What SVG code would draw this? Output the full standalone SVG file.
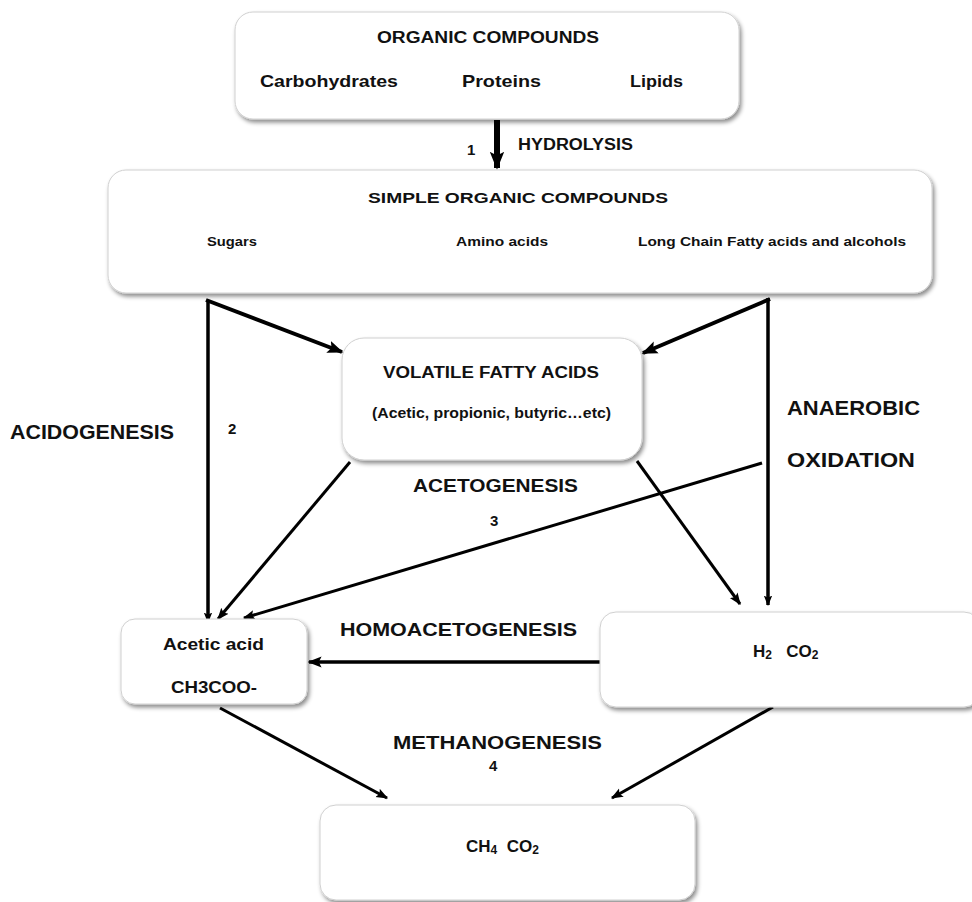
<svg xmlns="http://www.w3.org/2000/svg" width="972" height="902" viewBox="0 0 972 902">
<defs>
<filter id="sh" x="-10%" y="-10%" width="130%" height="140%">
<feDropShadow dx="2" dy="3" stdDeviation="2" flood-color="#000" flood-opacity="0.45"/>
</filter>
<marker id="ah" viewBox="0 0 10 10" refX="9" refY="5" markerWidth="4" markerHeight="4" orient="auto" markerUnits="strokeWidth">
<path d="M0,1 L10,5 L0,9 L2,5 Z" fill="#000"/>
</marker>
<marker id="ahs" viewBox="0 0 10 10" refX="9" refY="5" markerWidth="3" markerHeight="3" orient="auto" markerUnits="strokeWidth">
<path d="M0,1 L10,5 L0,9 L2,5 Z" fill="#000"/>
</marker>
</defs>
<style>
.box{fill:#fff;stroke:#d0d0d0;stroke-width:1;filter:url(#sh)}
text{font-family:"Liberation Sans",Arial,sans-serif;font-weight:bold;fill:#111}
.c{stroke:#000;fill:none;stroke-linecap:butt}
</style>
<rect width="972" height="902" fill="#fff"/>
<g id="connectors">
<line class="c" x1="497" y1="120" x2="497" y2="168" stroke-width="6" marker-end="url(#ahs)"/>
<polyline class="c" points="208,300 208,622" stroke-width="3.5" marker-end="url(#ahs)"/>
<line class="c" x1="206" y1="300" x2="342" y2="352" stroke-width="4" marker-end="url(#ah)"/>
<polyline class="c" points="768,298 768,605" stroke-width="3.5" marker-end="url(#ahs)"/>
<line class="c" x1="770" y1="299" x2="643" y2="353" stroke-width="4" marker-end="url(#ah)"/>
<line class="c" x1="350" y1="462" x2="218" y2="619" stroke-width="3" marker-end="url(#ah)"/>
<line class="c" x1="637" y1="461" x2="740" y2="604" stroke-width="3" marker-end="url(#ah)"/>
<line class="c" x1="762" y1="463" x2="244" y2="618" stroke-width="3" marker-end="url(#ah)"/>
<line class="c" x1="600" y1="662" x2="309" y2="662" stroke-width="3.5" marker-end="url(#ah)"/>
<line class="c" x1="220" y1="708" x2="387" y2="798" stroke-width="3" marker-end="url(#ah)"/>
<line class="c" x1="773" y1="707" x2="612" y2="798" stroke-width="3" marker-end="url(#ah)"/>
</g>
<g id="organic">
<rect class="box" x="235" y="12" width="504" height="107" rx="18"/>
<text x="488" y="43" font-size="16" text-anchor="middle" textLength="222" lengthAdjust="spacingAndGlyphs">ORGANIC COMPOUNDS</text>
<text x="260" y="87" font-size="17" textLength="138" lengthAdjust="spacingAndGlyphs">Carbohydrates</text>
<text x="462" y="87" font-size="17" textLength="79" lengthAdjust="spacingAndGlyphs">Proteins</text>
<text x="630" y="87" font-size="17" textLength="53" lengthAdjust="spacingAndGlyphs">Lipids</text>
</g>
<g id="simple">
<rect class="box" x="108" y="170" width="824" height="123" rx="18"/>
<text x="518" y="203" font-size="15" text-anchor="middle" textLength="300" lengthAdjust="spacingAndGlyphs">SIMPLE ORGANIC COMPOUNDS</text>
<text x="207" y="246" font-size="13.5" textLength="50" lengthAdjust="spacingAndGlyphs">Sugars</text>
<text x="456" y="246" font-size="13.5" textLength="92" lengthAdjust="spacingAndGlyphs">Amino acids</text>
<text x="638" y="246" font-size="13.5" textLength="268" lengthAdjust="spacingAndGlyphs">Long Chain Fatty acids and alcohols</text>
</g>
<g id="vfa">
<rect class="box" x="342" y="338" width="300" height="122" rx="22"/>
<text x="383" y="378" font-size="16" textLength="216" lengthAdjust="spacingAndGlyphs">VOLATILE FATTY ACIDS</text>
<text x="372" y="418" font-size="14" textLength="239" lengthAdjust="spacingAndGlyphs">(Acetic, propionic,  butyric…etc)</text>
</g>
<g id="acetic">
<rect class="box" x="121" y="619" width="186" height="85" rx="14"/>
<text x="163" y="650" font-size="16" textLength="101" lengthAdjust="spacingAndGlyphs">Acetic acid</text>
<text x="171" y="693" font-size="16" textLength="86" lengthAdjust="spacingAndGlyphs">CH3COO-</text>
</g>
<g id="h2co2">
<rect class="box" x="600" y="612" width="380" height="95" rx="16"/>
<text x="753" y="657" font-size="17">H<tspan font-size="12" dy="2">2</tspan><tspan dy="-2" xml:space="preserve">   CO</tspan><tspan font-size="12" dy="2">2</tspan></text>
</g>
<g id="ch4co2">
<rect class="box" x="320" y="805" width="375" height="95" rx="16"/>
<text x="466" y="852" font-size="17">CH<tspan font-size="12" dy="2">4</tspan><tspan dy="-2" xml:space="preserve">  CO</tspan><tspan font-size="12" dy="2">2</tspan></text>
</g>
<g id="labels">
<text x="467" y="155" font-size="15">1</text>
<text x="518" y="150" font-size="16" textLength="115" lengthAdjust="spacingAndGlyphs">HYDROLYSIS</text>
<text x="10" y="439" font-size="20" textLength="164" lengthAdjust="spacingAndGlyphs">ACIDOGENESIS</text>
<text x="228" y="434" font-size="15">2</text>
<text x="787" y="415" font-size="20" textLength="133" lengthAdjust="spacingAndGlyphs">ANAEROBIC</text>
<text x="787" y="467" font-size="20" textLength="128" lengthAdjust="spacingAndGlyphs">OXIDATION</text>
<text x="413" y="492" font-size="19" textLength="165" lengthAdjust="spacingAndGlyphs">ACETOGENESIS</text>
<text x="490" y="526" font-size="15">3</text>
<text x="340" y="636" font-size="19" textLength="237" lengthAdjust="spacingAndGlyphs">HOMOACETOGENESIS</text>
<text x="393" y="749" font-size="19" textLength="209" lengthAdjust="spacingAndGlyphs">METHANOGENESIS</text>
<text x="489" y="771" font-size="15">4</text>
</g>
</svg>
